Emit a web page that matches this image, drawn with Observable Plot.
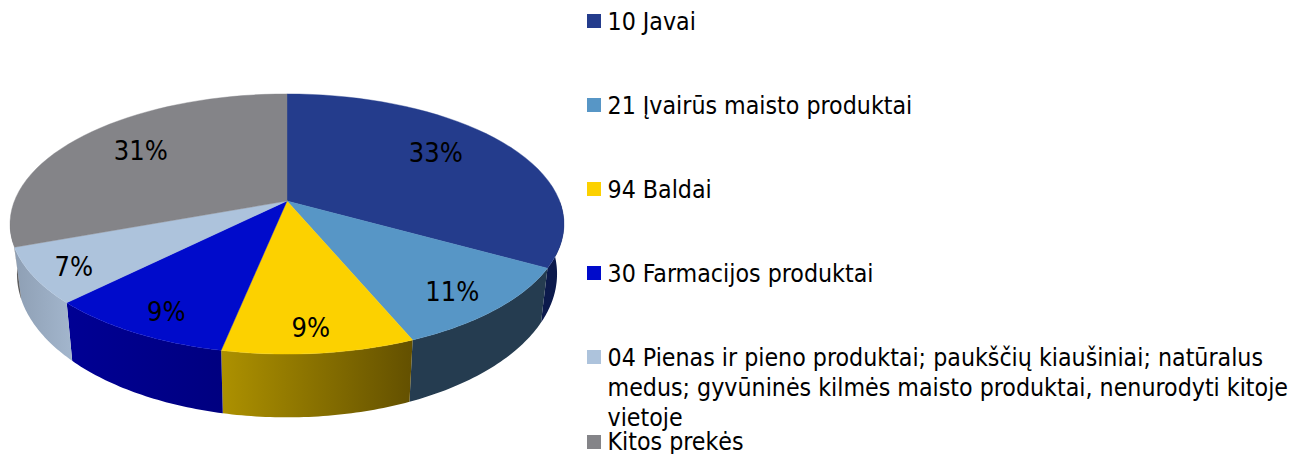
<!DOCTYPE html>
<html lang="lt">
<head>
<meta charset="utf-8">
<script src="https://cdn.jsdelivr.net/npm/d3@7"></script>
<script src="https://cdn.jsdelivr.net/npm/@observablehq/plot@0.6"></script>
<style>
  html, body { margin: 0; padding: 0; background: #fff; overflow: hidden; }
  #wrap { position: relative; width: 1303px; height: 454px; }
  #wrap svg { display: block; position: absolute; left: 0; top: 0; }
  .lg { position: absolute; left: 607.5px; width: 690px; font: 24.7px/30px "DejaVu Sans Condensed", "DejaVu Sans", sans-serif; color: #000; }
  .sw { position: absolute; left: 587px; width: 14px; height: 14px; }
</style>
</head>
<body>
<div id="wrap"></div>
<script>
// ---- data ----
const categories = [
  "10 Javai",
  "21 Įvairūs maisto produktai",
  "94 Baldai",
  "30 Farmacijos produktai",
  "04 Pienas ir pieno produktai; paukščių kiaušiniai; natūralus medus; gyvūninės kilmės maisto produktai, nenurodyti kitoje vietoje",
  "Kitos prekės"
];
const shares = [33.1, 10.6, 9.5, 9.3, 6.9, 30.6];
const shareLabels = ["33%", "11%", "9%", "9%", "7%", "31%"];

// ---- styles / layout ----
const topColors = ["#243c8c", "#5796c6", "#fcd100", "#000bcb", "#adc3dc", "#848488"];
const wallFills = ["#0c1a4c", "#253c50", "url(#gGold)", "url(#gBlue)", "url(#gLight)", "#5e5e60"];
const legendTops = [6.5, 90.5, 174.5, 258.5, 342.5, 427];
const swatchTops = [14, 98, 182, 266, 350, 435];
const labelFit = [[.69, .82], [.79, .84], [.74, .84], [.79, .85], [.84, .88], [.72, .76]];

// ground circle -> picture, with perspective
const CX = 286.5, CY = 200.5, K = 0.1769;
const rad = d => d * Math.PI / 180;
function topPoint(deg, rx = 1, ry = 1) {
  const u = Math.sin(rad(deg)), v = Math.cos(rad(deg)), w = 1 + K * v;
  return { x: CX + rx * 272.6 * u / w, y: CY - ry * 126 * v / w };
}
function basePoint(deg) {
  const u = Math.sin(rad(deg)), v = Math.cos(rad(deg)), w = 1 + K * v;
  return { x: CX + 0.975 * 272.6 * u / w, y: 248 - 139 * v / w };
}
const arc = (a, b, f) => d3.range(0, 41).map(i => f(a + (b - a) * i / 40));

// slice angles from the shares
let running = 0;
const slices = categories.map((name, i) => {
  const start = running * 3.6;
  running += shares[i];
  return { name, start, end: running * 3.6, i };
});

const topFaces = slices.flatMap(s => [
  { ...topPoint(0, 0, 0), name: s.name },
  ...arc(s.start, s.end, d => ({ ...topPoint(d), name: s.name })),
  { ...topPoint(0, 0, 0), name: s.name }
]);

// visible front wall of each slice (hidden rear part is clipped to the silhouette)
const wallMarks = slices.flatMap(s => {
  const a = Math.max(s.start, 90), b = Math.min(s.end, 262);
  if (a >= b) return [];
  const pts = [...arc(a, b, topPoint), ...arc(b, a, basePoint)];
  return [Plot.line(pts, { x: "x", y: "y", fill: wallFills[s.i], stroke: "none" })];
});

const labels = slices.map(s => {
  const mid = (s.start + s.end) / 2;
  return { ...topPoint(mid, labelFit[s.i][0], labelFit[s.i][1]), text: shareLabels[s.i] };
});

function gradient(id, stops) {
  const g = d3.create("svg:linearGradient").attr("id", id).attr("x1", 0).attr("x2", 1).attr("y1", 0).attr("y2", 0);
  stops.forEach(([o, c]) => g.append("stop").attr("offset", o).attr("stop-color", c));
  return g.node();
}
const defsMark = () => {
  const d = d3.create("svg:defs");
  d.append(() => gradient("gGold", [[0, "#ad9100"], [1, "#635000"]]));
  d.append(() => gradient("gBlue", [[0, "#000094"], [1, "#000080"]]));
  d.append(() => gradient("gLight", [[0, "#8e9fb4"], [1, "#a3b6cd"]]));
  return d.node();
};

const chart = Plot.plot({
  width: 1303, height: 454,
  margin: 0,
  x: { domain: [0, 1303], range: [0, 1303], axis: null },
  y: { domain: [0, 454], range: [0, 454], axis: null },
  color: { domain: categories, range: topColors },
  style: { background: "transparent" },
  marks: [
    defsMark,
    ...wallMarks,
    Plot.line(topFaces, { x: "x", y: "y", z: "name", fill: "name", stroke: "name", strokeWidth: 0.4 }),
    Plot.text(labels, { x: "x", y: "y", text: "text", fill: "#000", fontSize: 27,
      fontFamily: '"DejaVu Sans Condensed", "DejaVu Sans", sans-serif' })
  ]
});

const wrap = document.getElementById("wrap");
wrap.appendChild(chart);
categories.forEach((name, i) => {
  const sw = document.createElement("div");
  sw.className = "sw"; sw.style.top = swatchTops[i] + "px"; sw.style.background = topColors[i];
  wrap.appendChild(sw);
  const t = document.createElement("div");
  t.className = "lg"; t.style.top = legendTops[i] + "px"; t.textContent = name;
  wrap.appendChild(t);
});
</script>
</body>
</html>
